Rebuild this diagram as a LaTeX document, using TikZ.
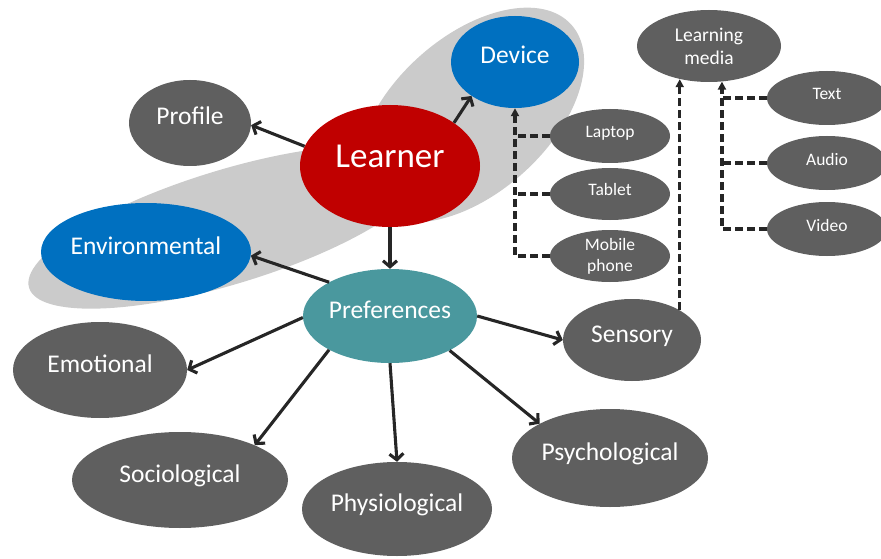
\documentclass[tikz,border=0pt]{standalone}
\usepackage{fontspec}
\setmainfont{Carlito}
\usetikzlibrary{shapes.geometric,arrows.meta}
\definecolor{bgg}{HTML}{CBCBCB}
\definecolor{ng}{HTML}{5F5F5F}
\definecolor{lred}{HTML}{C00000}
\definecolor{lblue}{HTML}{0070C0}
\definecolor{lteal}{HTML}{4A989E}
\definecolor{ln}{HTML}{262626}
\begin{document}
\begin{tikzpicture}[x=1pt,y=-1pt,
  bub/.style={ellipse,inner xsep=-40pt,inner ysep=-6pt,text=white,align=center},
  one/.style={text height=.7em,text depth=.3em},
  big/.style={font=\fontsize{25.5}{30}\selectfont},
  sm/.style={font=\fontsize{17.5}{21}\selectfont},
  arr/.style={draw=ln,line width=3.1pt,-{Straight Barb[length=6pt,width=14pt]}},
  dsh/.style={draw=ln,line width=3.1pt,dash pattern=on 8pt off 4pt},
  darr/.style={dsh,-{Triangle[length=8pt,width=8pt]}}]
\useasboundingbox (0,0) rectangle (881,559);
% background groupings
\fill[bgg,rotate around={42:(471,115)}] (471,115) ellipse [x radius=135pt,y radius=78pt];
\fill[bgg,rotate around={17:(228,227)}] (228,227) ellipse [x radius=208pt,y radius=57pt];
% nodes
\node[bub,one,fill=lred,minimum width=180pt,minimum height=122pt,font=\fontsize{35}{40}\selectfont] (learner) at (390,166) {Learner};
\node[bub,one,big,fill=ng,minimum width=122pt,minimum height=86pt] (profile) at (190,123) {Profile};
\node[bub,one,big,fill=lblue,minimum width=128pt,minimum height=92pt] (device) at (515,62) {Device};
\node[bub,one,big,fill=lblue,minimum width=210pt,minimum height=98pt] (env) at (146,252) {Environmental};
\node[bub,one,big,fill=lteal,minimum width=174pt,minimum height=94pt] (pref) at (390,316) {Preferences};
\node[bub,one,big,fill=ng,minimum width=174pt,minimum height=96pt] (emo) at (100,370) {Emotional};
\node[bub,one,big,fill=ng,minimum width=216pt,minimum height=96pt] (soc) at (180,480) {Sociological};
\node[bub,one,big,fill=ng,minimum width=190pt,minimum height=94pt] (phys) at (397,509) {Physiological};
\node[bub,one,big,fill=ng,minimum width=196pt,minimum height=98pt] (psych) at (610,458) {Psychological};
\node[bub,one,big,fill=ng,minimum width=138pt,minimum height=82pt] (sens) at (632,340) {Sensory};
\node[bub,one,sm,fill=ng,minimum width=120pt,minimum height=54pt] (laptop) at (610,136) {Laptop};
\node[bub,one,sm,fill=ng,minimum width=120pt,minimum height=52pt] (tablet) at (610,194) {Tablet};
\node[bub,sm,fill=ng,minimum width=120pt,minimum height=52pt] (mobile) at (610,256) {Mobile\\phone};
\node[bub,fill=ng,minimum width=144pt,minimum height=72pt,font=\fontsize{19.5}{23}\selectfont] (lmedia) at (709,46) {Learning\\media};
\node[bub,one,sm,fill=ng,minimum width=120pt,minimum height=54pt] (text) at (827,98) {Text};
\node[bub,one,sm,fill=ng,minimum width=120pt,minimum height=54pt] (audio) at (827,163) {Audio};
\node[bub,one,sm,fill=ng,minimum width=120pt,minimum height=54pt] (video) at (827,229) {Video};
% solid connectors
\draw[arr] (learner.167) -- (profile.-2);
\draw[arr] (learner.34) -- (device.218);
\draw[arr] (learner.south) -- (pref.north);
\draw[arr] (pref.151) -- (env.-2);
\draw[arr] (pref.181) -- (emo.east);
\draw[arr] (pref.209) -- (soc.25);
\draw[arr] (pref.south) -- (phys.north);
\draw[arr] (pref.-30) -- (psych.154);
\draw[arr] (pref.east) -- (sens.west);
% dashed connectors
\draw[darr] (sens.32) -- (sens.32 |- lmedia.229);
\draw[darr] (mobile.west) -| (device.south);
\draw[dsh] (laptop.west) -- (laptop.west -| device.south);
\draw[dsh] (tablet.west) -- (tablet.west -| device.south);
\draw[darr] (video.west) -| (lmedia.290);
\draw[dsh] (text.west) -- (text.west -| lmedia.290);
\draw[dsh] (audio.west) -- (audio.west -| lmedia.290);
\end{tikzpicture}
\end{document}
